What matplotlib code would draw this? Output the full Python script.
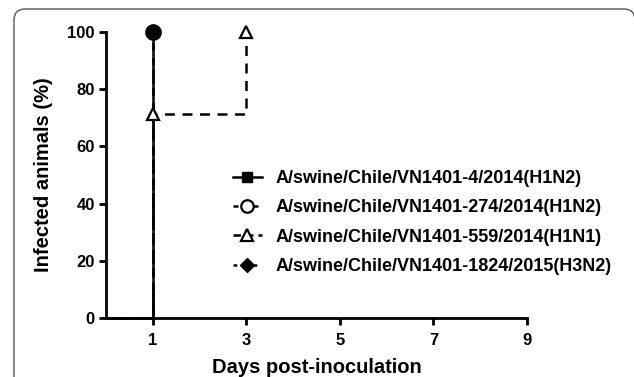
import matplotlib.pyplot as plt
from matplotlib.patches import FancyBboxPatch
from matplotlib.transforms import IdentityTransform

plt.rcParams['font.family'] = ['Liberation Sans', 'DejaVu Sans']
plt.rcParams['font.weight'] = 'bold'

labels = ['A/swine/Chile/VN1401-4/2014(H1N2)',
          'A/swine/Chile/VN1401-274/2014(H1N2)',
          'A/swine/Chile/VN1401-559/2014(H1N1)',
          'A/swine/Chile/VN1401-1824/2015(H3N2)']
# cumulative infected (%) by day
s4_x, s4_y = [0, 1], [0, 100]
s274_x, s274_y = [0, 1], [0, 100]
s559_x, s559_y = [0, 1, 3], [0, 71.4, 100]
s1824_x, s1824_y = [0, 1], [0, 100]

fig = plt.figure(figsize=(6.34, 3.77), dpi=100)
ax = fig.add_axes([106/634, 1-318/377, (527-106)/634, (318-32)/377])

# rounded frame around the figure (pixel coords)
frame = FancyBboxPatch((14, -20), 621, 377-9+20,
                       boxstyle='round,pad=0,rounding_size=11',
                       transform=IdentityTransform(), fill=False,
                       edgecolor='#555555', linewidth=1.0, clip_on=False)
fig.patches.append(frame)

h1, = ax.step(s4_x, s4_y, where='post', color='black', lw=1.8, ls='-',
              marker='s', ms=7, mfc='black', mec='black', clip_on=False, zorder=3)
h2, = ax.step(s274_x, s274_y, where='post', color='black', lw=1.8, ls=(0, (3, 3)),
              marker='o', ms=11, mfc='black', mec='black', clip_on=False, zorder=4)
h3, = ax.step(s559_x, s559_y, where='post', color='black', lw=1.8, ls=(0, (4, 3)),
              marker='^', ms=9, mfc='white', mec='black', mew=1.6, clip_on=False, zorder=5)
h4, = ax.step(s1824_x, s1824_y, where='post', color='black', lw=1.8, ls=(0, (1.5, 3)),
              marker='D', ms=7, mfc='black', mec='black', clip_on=False, zorder=3)
for h in (h1, h2, h3, h4):
    h.set_markevery(slice(1, None))

# legend handles
l1, = ax.plot([], [], color='black', lw=1.8, ls='-', marker='s', ms=7)
l2, = ax.plot([], [], color='black', lw=1.8, ls=(0, (2, 2)), marker='o', ms=9,
              mfc='white', mew=1.6)
l3, = ax.plot([], [], color='black', lw=1.8, ls=(0, (3, 2)), marker='^', ms=9,
              mfc='white', mew=1.6)
l4, = ax.plot([], [], color='black', lw=1.8, ls=(0, (1.5, 2.5)), marker='D', ms=7)
ax.legend([l1, l2, l3, l4], labels, loc='upper left',
          bbox_to_anchor=((233-106)/421, 1-(170-32)/286), frameon=False,
          prop={'weight': 'bold', 'size': 13}, handlelength=1.6,
          handletextpad=0.75, labelspacing=0.68, borderpad=0, borderaxespad=0)

ax.set_xlim(0, 9)
ax.set_ylim(0, 100)
ax.set_xticks([1, 3, 5, 7, 9])
ax.set_yticks([0, 20, 40, 60, 80, 100])
ax.spines['top'].set_visible(False)
ax.spines['right'].set_visible(False)
ax.spines['left'].set_linewidth(2)
ax.spines['bottom'].set_linewidth(2)
ax.tick_params(width=2, length=5, labelsize=12)
ax.tick_params(axis='x', pad=6)
ax.tick_params(axis='y', pad=3)
for t in ax.get_xticklabels() + ax.get_yticklabels():
    t.set_fontweight('bold')
ax.set_xlabel('Days post-inoculation', fontsize=14.5, fontweight='bold', labelpad=7)
ax.set_ylabel('Infected animals (%)', fontsize=14.5, fontweight='bold', labelpad=10)

fig.savefig('out.png', dpi=100)
